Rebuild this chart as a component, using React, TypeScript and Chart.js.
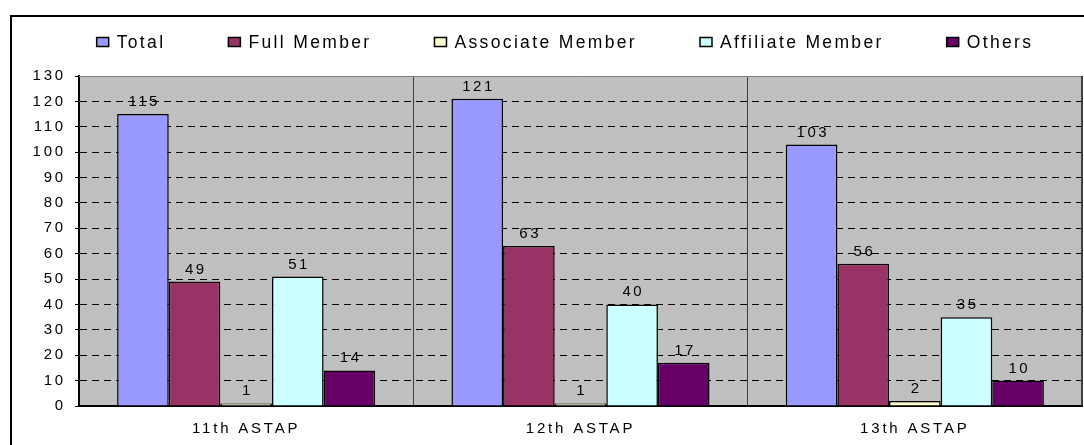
import React, { useEffect, useRef } from "react";
import { Chart, registerables } from "chart.js";

Chart.register(...registerables);

const categories = ["11th ASTAP", "12th ASTAP", "13th ASTAP"];
const seriesNames = ["Total", "Full Member", "Associate Member", "Affiliate Member", "Others"];
const totalValues = [115, 121, 103];
const fullMemberValues = [49, 63, 56];
const associateValues = [1, 1, 2];
const affiliateValues = [51, 40, 35];
const othersValues = [14, 17, 10];
const seriesColors = ["#9999FF", "#993366", "#FFFFCC", "#CCFFFF", "#660066"];
const yTicks = [0, 10, 20, 30, 40, 50, 60, 70, 80, 90, 100, 110, 120, 130];

const FONT = '"Liberation Sans", Arial, sans-serif';

const framePlugin = {
  id: "frame",
  beforeDraw(chart: any) {
    const { ctx, chartArea } = chart;
    ctx.save();
    ctx.fillStyle = "#ffffff";
    ctx.fillRect(0, 0, chart.width, chart.height);
    ctx.fillStyle = "#C0C0C0";
    ctx.fillRect(chartArea.left, chartArea.top, chartArea.right - chartArea.left, chartArea.bottom - chartArea.top);
    ctx.strokeStyle = "#000";
    ctx.lineWidth = 2;
    ctx.beginPath();
    ctx.moveTo(11, chart.height);
    ctx.lineTo(11, 16);
    ctx.lineTo(chart.width, 16);
    ctx.stroke();
    ctx.restore();
    (ctx as any).letterSpacing = "2.8px";
  },
  afterDraw(chart: any) {
    const { ctx, chartArea } = chart;
    ctx.save();
    ctx.lineWidth = 1;
    ctx.strokeStyle = "#808080";
    ctx.beginPath();
    ctx.moveTo(chartArea.left, chartArea.top + 0.5);
    ctx.lineTo(chartArea.right, chartArea.top + 0.5);
    ctx.stroke();
    ctx.strokeStyle = "#404040";
    ctx.beginPath();
    ctx.moveTo(chartArea.right - 0.5, chartArea.top);
    ctx.lineTo(chartArea.right - 0.5, chartArea.bottom);
    ctx.stroke();

    const ds = chart.data.datasets;
    ctx.font = `17.5px ${FONT}`;
    (ctx as any).letterSpacing = "2.35px";
    const boxW = 12, boxH = 9, boxGap = 8, itemGap = 63;
    const widths = ds.map((d: any) => ctx.measureText(d.label).width);
    const total = widths.reduce((a: number, w: number) => a + boxW + boxGap + w, 0) + itemGap * (ds.length - 1);
    let x = 565 - total / 2;
    const cy = 42;
    ds.forEach((d: any, i: number) => {
      ctx.fillStyle = d.backgroundColor;
      ctx.fillRect(x, cy - boxH / 2, boxW, boxH);
      ctx.strokeStyle = "#000";
      ctx.lineWidth = 1.5;
      ctx.strokeRect(x, cy - boxH / 2, boxW, boxH);
      ctx.fillStyle = "#000";
      ctx.textAlign = "left";
      ctx.textBaseline = "middle";
      ctx.fillText(d.label, x + boxW + boxGap, cy + 1);
      x += boxW + boxGap + widths[i] + itemGap;
    });
    ctx.restore();
  },
  afterDatasetsDraw(chart: any) {
    const { ctx } = chart;
    ctx.save();
    ctx.font = `15px ${FONT}`;
    (ctx as any).letterSpacing = "2.5px";
    ctx.fillStyle = "#000";
    ctx.textAlign = "center";
    ctx.textBaseline = "alphabetic";
    chart.data.datasets.forEach((d: any, di: number) => {
      const meta = chart.getDatasetMeta(di);
      meta.data.forEach((bar: any, i: number) => {
        ctx.fillText(String(d.data[i]), bar.x + 1.25, bar.y - 8);
      });
    });
    ctx.restore();
  },
};

export default function App() {
  const ref = useRef<HTMLCanvasElement>(null);
  useEffect(() => {
    if (!ref.current) return;
    const valueSets = [totalValues, fullMemberValues, associateValues, affiliateValues, othersValues];
    const chart = new Chart(ref.current, {
      type: "bar",
      data: {
        labels: categories,
        datasets: seriesNames.map((name, i) => ({
          label: name,
          data: valueSets[i],
          backgroundColor: seriesColors[i],
          borderColor: "#000",
          borderWidth: 1.5,
          categoryPercentage: 0.772,
          barPercentage: 1,
        })),
      },
      options: {
        responsive: false,
        animation: false,
        devicePixelRatio: 1,
        layout: { padding: { top: 76, right: 2, left: 0, bottom: 0 } },
        plugins: {
          legend: { display: false },
          tooltip: { enabled: false },
        },
        scales: {
          x: {
            offset: true,
            grid: {
              offset: true,
              color: "#404040",
              lineWidth: 1,
              drawTicks: false,
            },
            border: { color: "#000", width: 2 },
            ticks: {
              color: "#000",
              font: { family: FONT, size: 15 },
              padding: 14,
              maxRotation: 0,
            },
            afterFit: (s: any) => {
              s.height = 39;
            },
          },
          y: {
            min: 0,
            max: 130,
            afterBuildTicks: (s: any) => {
              s.ticks = yTicks.map((v) => ({ value: v }));
            },
            grid: {
              color: (c: any) => (c.tick && (c.tick.value === 0 || c.tick.value === 130) ? "rgba(0,0,0,0)" : "#000"),
              lineWidth: 1,
              tickColor: "#000",
              tickLength: 4,
              tickBorderDash: [],
            } as any,
            border: { color: "#000", width: 2, dash: [7, 5] } as any,
            ticks: {
              color: "#000",
              font: { family: FONT, size: 15 },
              padding: 9,
            },
            afterFit: (s: any) => {
              s.width = 79;
            },
          },
        },
      },
      plugins: [framePlugin],
    });
    return () => chart.destroy();
  }, []);
  return (
    <div style={{ position: "absolute", left: 0, top: 0, width: 1084, height: 445 }}>
      <canvas ref={ref} width={1084} height={445} style={{ display: "block" }} />
    </div>
  );
}
